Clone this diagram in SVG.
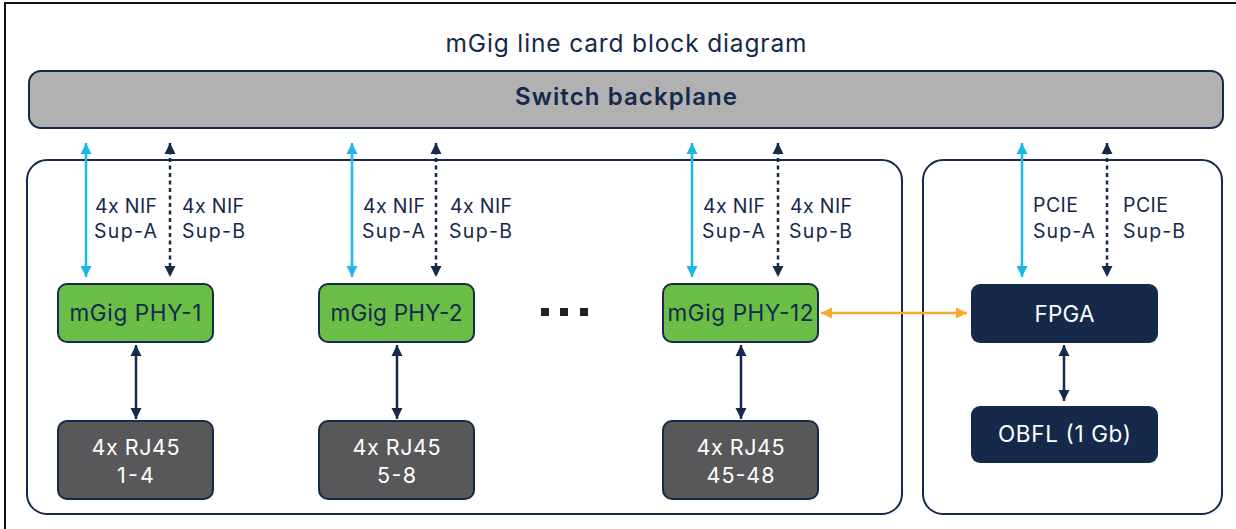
<svg xmlns="http://www.w3.org/2000/svg" width="1236" height="529" viewBox="0 0 1236 529">
<defs>
<style>
text{font-family:Inter,"Liberation Sans",Arial,sans-serif;}
.navy{fill:#15294b;}
.white{fill:#ffffff;}
.lbl{font-size:19.5px;fill:#15294b;}
.box{stroke:#15294b;stroke-width:2;}
.phy{fill:#6abd45;}
.rj{fill:#58585a;}
.dk{fill:#15294b;}
.cy{stroke:#1bb8e6;stroke-width:2.5;fill:none;}
.ds{stroke:#15294b;stroke-width:2.5;fill:none;stroke-dasharray:4 3.5;}
.nv{stroke:#15294b;stroke-width:2.5;fill:none;}
.or{stroke:#f7a929;stroke-width:2.5;fill:none;}
</style>
<marker id="aC" viewBox="0 0 10 10" refX="10" refY="5" markerUnits="userSpaceOnUse" markerWidth="11" markerHeight="12" orient="auto-start-reverse"><path d="M0,0 L10,5 L0,10 z" fill="#1bb8e6"/></marker>
<marker id="aN" viewBox="0 0 10 10" refX="10" refY="5" markerUnits="userSpaceOnUse" markerWidth="11" markerHeight="12" orient="auto-start-reverse"><path d="M0,0 L10,5 L0,10 z" fill="#15294b"/></marker>
<marker id="aO" viewBox="0 0 10 10" refX="10" refY="5" markerUnits="userSpaceOnUse" markerWidth="11" markerHeight="12" orient="auto-start-reverse"><path d="M0,0 L10,5 L0,10 z" fill="#f7a929"/></marker>
</defs>
<rect x="0" y="0" width="1236" height="529" fill="#ffffff"/>
<rect x="5" y="3" width="1240" height="540" fill="none" stroke="#111" stroke-width="2"/>
<text x="626" y="52" text-anchor="middle" font-size="24.5" class="navy" textLength="361" lengthAdjust="spacing">mGig line card block diagram</text>

<g id="backplane">
<rect x="29" y="71" width="1194" height="57" rx="12" fill="#b1b1b1" class="box"/>
<text x="626" y="105" text-anchor="middle" font-size="24" font-weight="600" class="navy" textLength="222" lengthAdjust="spacing">Switch backplane</text>
</g>

<g id="linecard-group">
<rect x="27" y="160" width="875" height="354" rx="20" fill="none" stroke="#15294b" stroke-width="2"/>
</g>
<g id="control-group">
<rect x="923" y="160" width="299" height="354" rx="20" fill="none" stroke="#15294b" stroke-width="2"/>
</g>

<g id="phy1">
<rect x="58" y="284" width="155" height="58" rx="9" class="box phy"/>
<text x="135.5" y="321" text-anchor="middle" font-size="22.5" class="navy" textLength="132" lengthAdjust="spacing">mGig PHY-1</text>
</g>
<g id="phy2">
<rect x="319" y="284" width="155" height="58" rx="9" class="box phy"/>
<text x="396.5" y="321" text-anchor="middle" font-size="22.5" class="navy" textLength="132" lengthAdjust="spacing">mGig PHY-2</text>
</g>
<g id="phy12">
<rect x="663" y="284" width="155" height="58" rx="9" class="box phy"/>
<text x="740.5" y="321" text-anchor="middle" font-size="22.5" class="navy" textLength="146" lengthAdjust="spacing">mGig PHY-12</text>
</g>

<g id="rj1">
<rect x="58" y="421" width="155" height="78" rx="9" class="box rj"/>
<text x="135.5" y="455" text-anchor="middle" font-size="21.5" class="white" textLength="88" lengthAdjust="spacing">4x RJ45</text>
<text x="135.5" y="483" text-anchor="middle" font-size="21.5" class="white" textLength="37" lengthAdjust="spacing">1-4</text>
</g>
<g id="rj2">
<rect x="319" y="421" width="155" height="78" rx="9" class="box rj"/>
<text x="396.5" y="455" text-anchor="middle" font-size="21.5" class="white" textLength="88" lengthAdjust="spacing">4x RJ45</text>
<text x="396.5" y="483" text-anchor="middle" font-size="21.5" class="white" textLength="39" lengthAdjust="spacing">5-8</text>
</g>
<g id="rj12">
<rect x="663" y="421" width="155" height="78" rx="9" class="box rj"/>
<text x="740.5" y="455" text-anchor="middle" font-size="21.5" class="white" textLength="88" lengthAdjust="spacing">4x RJ45</text>
<text x="740.5" y="483" text-anchor="middle" font-size="21.5" class="white" textLength="68" lengthAdjust="spacing">45-48</text>
</g>

<g id="fpga">
<rect x="971" y="284" width="187" height="59" rx="9" class="dk"/>
<text x="1064.5" y="322" text-anchor="middle" font-size="22.5" class="white" textLength="60" lengthAdjust="spacing">FPGA</text>
</g>
<g id="obfl">
<rect x="971" y="406" width="187" height="57" rx="9" class="dk"/>
<text x="1064.5" y="442" text-anchor="middle" font-size="22.5" class="white" textLength="133" lengthAdjust="spacing">OBFL (1 Gb)</text>
</g>

<g id="ellipsis" fill="#222">
<rect x="541" y="308" width="8" height="8"/>
<rect x="560" y="308" width="8" height="8"/>
<rect x="580" y="308" width="8" height="8"/>
</g>

<g id="labels">
<text x="95" y="213" class="lbl" textLength="62" lengthAdjust="spacing">4x NIF</text>
<text x="94" y="238" class="lbl" textLength="63" lengthAdjust="spacing">Sup-A</text>
<text x="182" y="213" class="lbl" textLength="62" lengthAdjust="spacing">4x NIF</text>
<text x="182" y="238" class="lbl" textLength="63" lengthAdjust="spacing">Sup-B</text>
<text x="363" y="213" class="lbl" textLength="62" lengthAdjust="spacing">4x NIF</text>
<text x="362" y="238" class="lbl" textLength="63" lengthAdjust="spacing">Sup-A</text>
<text x="450" y="213" class="lbl" textLength="62" lengthAdjust="spacing">4x NIF</text>
<text x="449" y="238" class="lbl" textLength="63" lengthAdjust="spacing">Sup-B</text>
<text x="703" y="213" class="lbl" textLength="62" lengthAdjust="spacing">4x NIF</text>
<text x="702" y="238" class="lbl" textLength="63" lengthAdjust="spacing">Sup-A</text>
<text x="790" y="213" class="lbl" textLength="62" lengthAdjust="spacing">4x NIF</text>
<text x="789" y="238" class="lbl" textLength="63" lengthAdjust="spacing">Sup-B</text>
<text x="1033" y="212" class="lbl" textLength="45" lengthAdjust="spacing">PCIE</text>
<text x="1033" y="238" class="lbl" textLength="62" lengthAdjust="spacing">Sup-A</text>
<text x="1123" y="212" class="lbl" textLength="45" lengthAdjust="spacing">PCIE</text>
<text x="1123" y="238" class="lbl" textLength="62" lengthAdjust="spacing">Sup-B</text>
</g>

<g id="connectors">
<line x1="86" y1="143" x2="86" y2="277" class="cy" marker-start="url(#aC)" marker-end="url(#aC)"/>
<line x1="170" y1="143" x2="170" y2="277" class="ds" marker-start="url(#aN)" marker-end="url(#aN)"/>
<line x1="352" y1="143" x2="352" y2="277" class="cy" marker-start="url(#aC)" marker-end="url(#aC)"/>
<line x1="436" y1="143" x2="436" y2="277" class="ds" marker-start="url(#aN)" marker-end="url(#aN)"/>
<line x1="692" y1="143" x2="692" y2="277" class="cy" marker-start="url(#aC)" marker-end="url(#aC)"/>
<line x1="778" y1="143" x2="778" y2="277" class="ds" marker-start="url(#aN)" marker-end="url(#aN)"/>
<line x1="1022" y1="143" x2="1022" y2="277" class="cy" marker-start="url(#aC)" marker-end="url(#aC)"/>
<line x1="1107" y1="143" x2="1107" y2="277" class="ds" marker-start="url(#aN)" marker-end="url(#aN)"/>
<line x1="136" y1="345" x2="136" y2="419" class="nv" marker-start="url(#aN)" marker-end="url(#aN)"/>
<line x1="397" y1="345" x2="397" y2="419" class="nv" marker-start="url(#aN)" marker-end="url(#aN)"/>
<line x1="741" y1="345" x2="741" y2="419" class="nv" marker-start="url(#aN)" marker-end="url(#aN)"/>
<line x1="1064" y1="345" x2="1064" y2="401" class="nv" marker-start="url(#aN)" marker-end="url(#aN)"/>
<line x1="821" y1="313" x2="967" y2="313" class="or" marker-start="url(#aO)" marker-end="url(#aO)"/>
</g>
</svg>
